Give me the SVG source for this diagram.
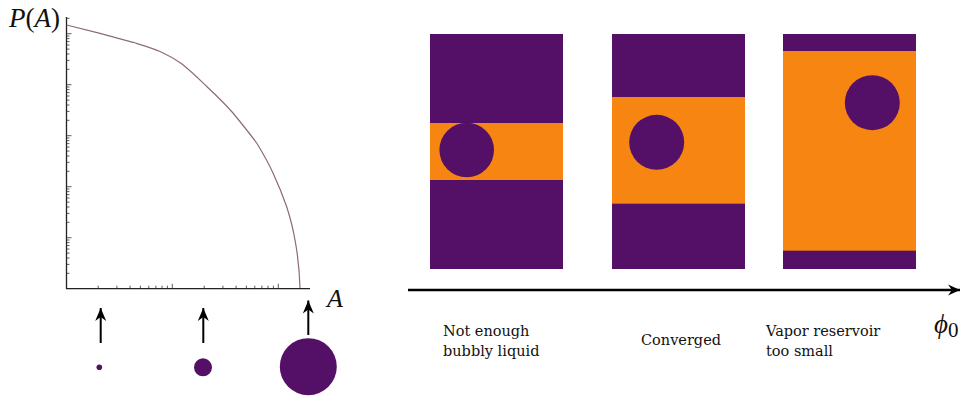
<svg xmlns="http://www.w3.org/2000/svg" width="965" height="399" viewBox="0 0 965 399">
<style>
.pu{fill:#531066}
.or{fill:#f78512}
.lbl{font-family:"DejaVu Serif","Liberation Serif",serif;font-size:14.5px;fill:#111}
.math{font-family:"Liberation Serif","DejaVu Serif",serif;fill:#111}
.ax{stroke:#222;stroke-width:1.3;fill:none}
.tk{stroke:#333;stroke-width:0.8;fill:none}
.arr{stroke:#000;stroke-width:2;fill:none}
</style>
<defs>
<marker id="head" viewBox="-13 -6 14 12" refX="0" refY="0" markerWidth="14" markerHeight="12" markerUnits="userSpaceOnUse" orient="auto">
<path d="M0,0 L-13,-5.5 L-9,0 L-13,5.5 Z" fill="#000"/>
</marker>
<marker id="head2" viewBox="-13 -6 14 12" refX="0" refY="0" markerWidth="14" markerHeight="12" markerUnits="userSpaceOnUse" orient="auto">
<path d="M0,0 L-12,-5.5 L-8,0 L-12,5.5 Z" fill="#000"/>
</marker>
</defs>
<g id="plot">
<path class="ax" d="M66.5,17 V288.7 H310"/>
<path class="tk" d="M98.2,288.7v-3M116.9,288.7v-3M130.1,288.7v-3M140.4,288.7v-3M148.8,288.7v-3M155.9,288.7v-3M162,288.7v-3M167.4,288.7v-3M204.2,288.7v-3M222.9,288.7v-3M236.1,288.7v-3M246.4,288.7v-3M254.8,288.7v-3M261.9,288.7v-3M268,288.7v-3M273.4,288.7v-3M172.3,288.7v-5M278.3,288.7v-5"/>
<path class="tk" d="M66.5,273.3h3M66.5,264.4h3M66.5,258h3M66.5,253.1h3M66.5,249h3M66.5,245.6h3M66.5,242.6h3M66.5,240h3M66.5,222.3h3M66.5,213.4h3M66.5,207h3M66.5,202.1h3M66.5,198h3M66.5,194.6h3M66.5,191.6h3M66.5,189h3M66.5,171.3h3M66.5,162.4h3M66.5,156h3M66.5,151.1h3M66.5,147h3M66.5,143.6h3M66.5,140.6h3M66.5,138h3M66.5,120.3h3M66.5,111.4h3M66.5,105h3M66.5,100.1h3M66.5,96h3M66.5,92.6h3M66.5,89.6h3M66.5,87h3M66.5,69.3h3M66.5,60.4h3M66.5,54h3M66.5,49.1h3M66.5,45h3M66.5,41.6h3M66.5,38.6h3M66.5,36h3M66.5,18.3h3M66.5,237.7h5M66.5,186.7h5M66.5,135.7h5M66.5,84.7h5M66.5,33.7h5"/>
<path d="M66.7,25 L100,33.3 L133,42.3 C145,46 152,48 160,51.5 C168,55 175,59 182,64 C192,72 200,80 207,86.7 C217,96 226,105 233,113 C242,124 250,134 256.7,143 C264,155 269,164 273,173 C279,186 283,196 286.7,206.7 C290,217 293,228 295,240 C298,256 299.5,272 300,288" fill="none" stroke="#8c6a7a" stroke-width="1.2"/>
<text class="math" x="9" y="27" font-size="27"><tspan font-style="italic">P</tspan>(<tspan font-style="italic">A</tspan>)</text>
<text class="math" x="327" y="307" font-size="26" font-style="italic">A</text>
</g>
<g id="connectors">
<line class="arr" x1="100.7" y1="343" x2="100.7" y2="308" marker-end="url(#head)"/>
<line class="arr" x1="203.3" y1="343" x2="203.3" y2="308" marker-end="url(#head)"/>
<line class="arr" x1="308.3" y1="335" x2="308.3" y2="300.5" marker-end="url(#head)"/>
<line x1="408" y1="290" x2="960" y2="290" stroke="#000" stroke-width="2.6" marker-end="url(#head2)"/>
</g>
<g id="bubble-small"><circle class="pu" cx="99.3" cy="367.3" r="2.8"/></g>
<g id="bubble-medium"><circle class="pu" cx="203" cy="367.3" r="9"/></g>
<g id="bubble-large"><circle class="pu" cx="308.3" cy="366.7" r="28.5"/></g>
<g id="panel1">
<rect class="pu" x="430" y="34" width="133" height="235"/>
<rect class="or" x="430" y="123" width="133" height="57"/>
<circle class="pu" cx="466.7" cy="150" r="27.3"/>
</g>
<g id="panel2">
<rect class="pu" x="612" y="34" width="133" height="235"/>
<rect class="or" x="612" y="97" width="133" height="106.7"/>
<circle class="pu" cx="656.7" cy="142.3" r="27.5"/>
</g>
<g id="panel3">
<rect class="pu" x="783" y="34" width="133" height="235"/>
<rect class="or" x="783" y="51" width="133" height="199.7"/>
<circle class="pu" cx="872.3" cy="102.7" r="27.5"/>
</g>
<g id="labels">
<text class="lbl" x="443" y="336">Not enough</text>
<text class="lbl" x="443" y="356">bubbly liquid</text>
<text class="lbl" x="641" y="345">Converged</text>
<text class="lbl" x="766" y="336">Vapor reservoir</text>
<text class="lbl" x="766" y="356">too small</text>
<text class="math" x="934" y="333" font-size="27" font-style="italic">ϕ<tspan font-style="normal" font-size="21" dy="4">0</tspan></text>
</g>
</svg>
